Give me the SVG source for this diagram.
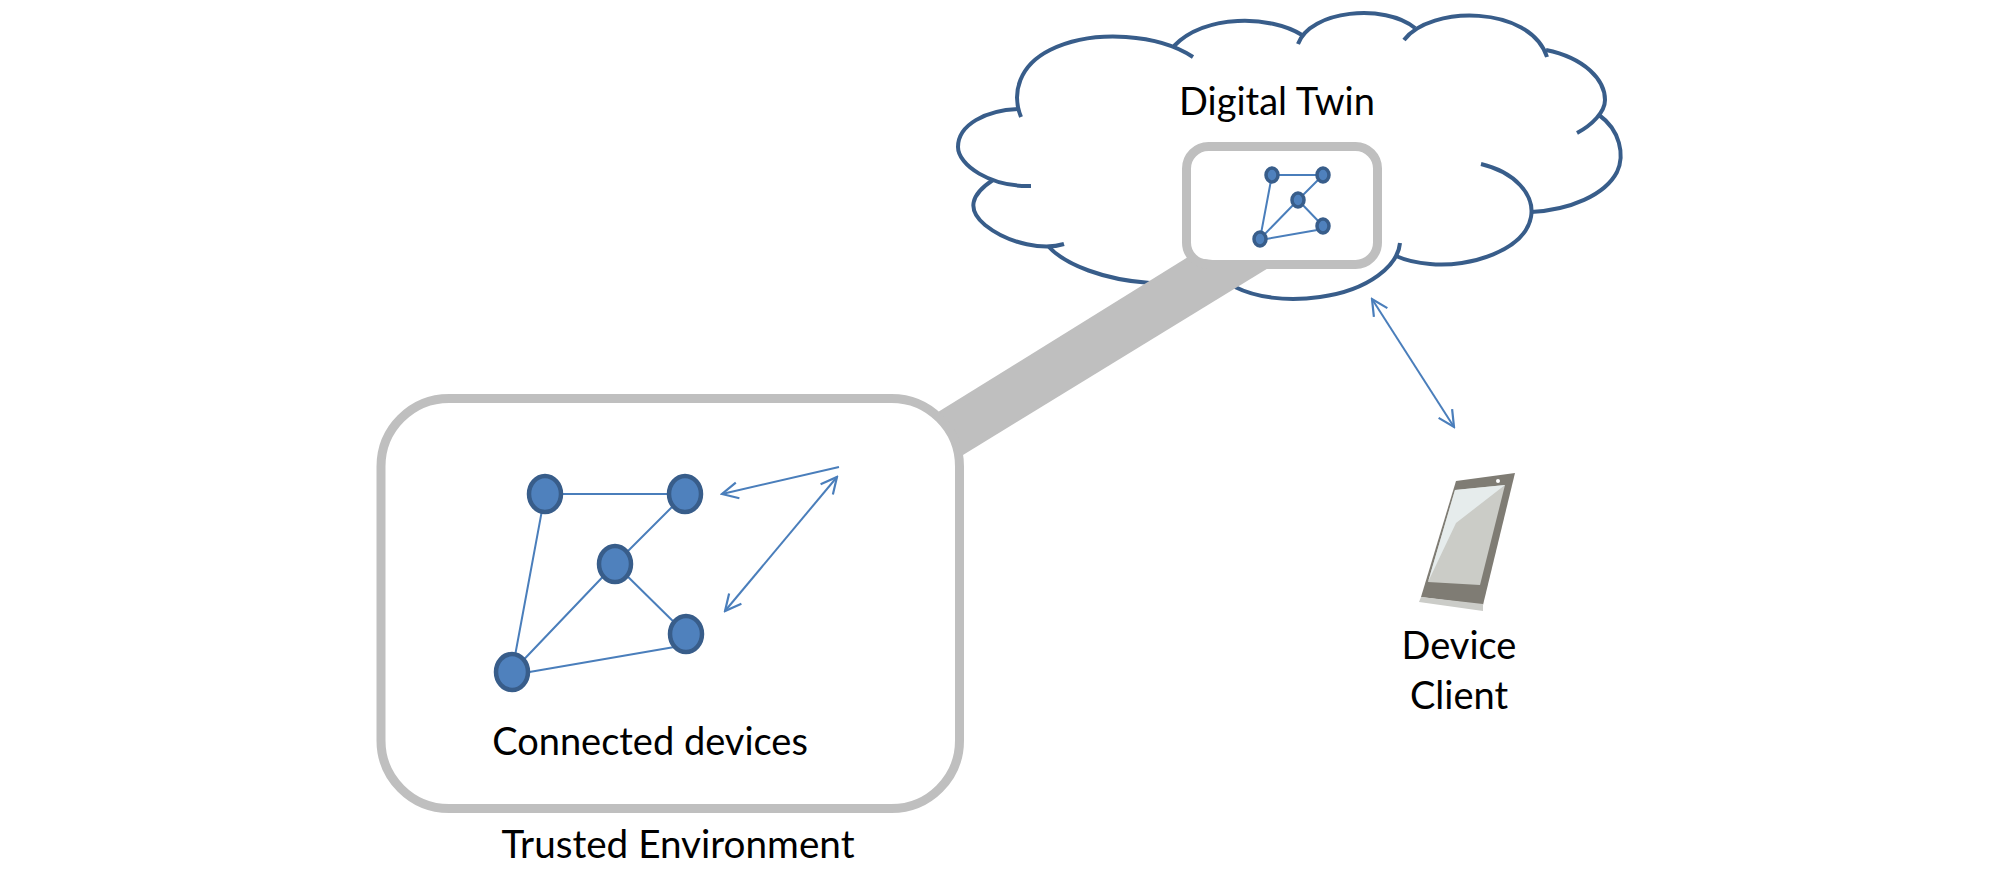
<svg xmlns="http://www.w3.org/2000/svg" width="2000" height="894" viewBox="0 0 2000 894">
<style>
.c{fill:none;stroke:#385d8a;stroke-width:4;stroke-linecap:butt}
.l{stroke:#4a7ebb;stroke-width:2;fill:none}
.a{stroke:#4a7ebb;stroke-width:2;fill:none;marker-start:url(#h);marker-end:url(#h)}
.n{fill:#4f81bd;stroke:#385d8a;stroke-width:4.5}
.s{fill:#4f81bd;stroke:#385d8a;stroke-width:3.5}
.f{fill:none;stroke:#bfbfbf}
text{font-family:"Lato","Liberation Sans",sans-serif;font-size:38px;fill:#000;text-anchor:middle}
</style>
<defs>
<marker id="h" viewBox="0 0 20 20" refX="18" refY="10" markerWidth="20" markerHeight="20" markerUnits="userSpaceOnUse" orient="auto-start-reverse"><path d="M2 2L18 10L2 18" fill="none" stroke="#4a7ebb" stroke-width="2.2"/></marker>
</defs>
<g id="cloud">
<path class="c" d="M1021 117C1011 92 1020 65 1050 50C1095 28 1160 35 1193 57"/>
<path class="c" d="M1174 46C1205 14 1270 15 1302 35"/>
<path class="c" d="M1298 44C1310 10 1385 3 1415 28"/>
<path class="c" d="M1404 40C1430 5 1530 5 1547 57"/>
<path class="c" d="M1546 50C1585 58 1605 80 1605 100C1605 112 1592 125 1577 133"/>
<path class="c" d="M1599 115C1620 130 1625 155 1617 172C1605 195 1570 210 1531 212"/>
<path class="c" d="M1481 164C1515 172 1535 195 1531 217C1525 250 1470 268 1430 264C1417 263 1405 260 1396 256"/>
<path class="c" d="M1400 243C1398 265 1370 290 1320 297C1285 302 1255 297 1235 287"/>
<path class="c" d="M1150 283C1105 280 1065 265 1048 246"/>
<path class="c" d="M1064 244C1045 250 1010 245 985 225C967 210 970 195 993 180"/>
<path class="c" d="M1031 186C990 187 958 165 958 147C958 125 985 110 1020 109"/>
</g>
<g id="connectors">
<polygon points="1188,257 938,412 963,455 1270,267" fill="#bfbfbf"/>
<path class="a" d="M1372 299L1454 427"/>
<path class="a" d="M837 477L725 611"/>
<path class="l" style="marker-end:url(#h)" d="M839 467L722 494"/>
<path class="l" d="M545 494H685M685 494L615 564M615 564L686 634M545 494L512 672M615 564L512 672M686 645L512 675"/>
<path class="l" d="M1272 175H1323M1323 175L1298 200M1298 200L1323 226M1272 175L1260 239M1298 200L1260 239M1323 229L1260 240"/>
</g>
<g id="trusted-environment"><rect class="f" x="381" y="398.5" width="578.5" height="410" rx="68" stroke-width="9"/><text x="678" y="858" textLength="353" lengthAdjust="spacingAndGlyphs">Trusted Environment</text></g>
<g id="connected-devices"><text x="650" y="755">Connected devices</text></g>
<g id="digital-twin"><rect class="f" x="1186.5" y="146.5" width="191" height="118" rx="22" stroke-width="9"/><text x="1277" y="115">Digital Twin</text></g>
<g id="n1"><ellipse class="n" cx="545" cy="494" rx="16" ry="18"/></g>
<g id="n2"><ellipse class="n" cx="685" cy="494" rx="16" ry="18"/></g>
<g id="n3"><ellipse class="n" cx="615" cy="564" rx="16" ry="18"/></g>
<g id="n4"><ellipse class="n" cx="686" cy="634" rx="16" ry="18"/></g>
<g id="n5"><ellipse class="n" cx="512" cy="672" rx="16" ry="18"/></g>
<g id="t1"><ellipse class="s" cx="1272" cy="175" rx="6" ry="7"/></g>
<g id="t2"><ellipse class="s" cx="1323" cy="175" rx="6" ry="7"/></g>
<g id="t3"><ellipse class="s" cx="1298" cy="200" rx="6" ry="7"/></g>
<g id="t4"><ellipse class="s" cx="1323" cy="226" rx="6" ry="7"/></g>
<g id="t5"><ellipse class="s" cx="1260" cy="239" rx="6" ry="7"/></g>
<g id="device-client">
<polygon points="1456,481 1515,473 1483,605 1421,597" fill="#7f7c74"/>
<polygon points="1421,597 1483,604 1483,611 1419,602" fill="#cbccc8"/>
<polygon points="1455,490 1505,485 1480,585 1428,582" fill="#cbccc7"/>
<polygon points="1455,490 1505,485 1456,523 1428,582" fill="#e6ecec"/>
<circle cx="1498" cy="481" r="2" fill="#fff"/>
<text x="1459" y="659">Device</text><text x="1459" y="709">Client</text>
</g>
</svg>
